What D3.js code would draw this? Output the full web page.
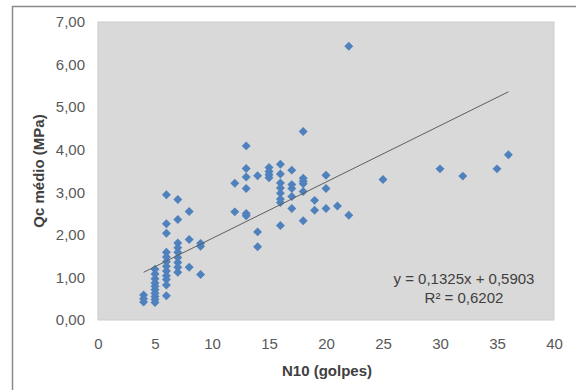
<!DOCTYPE html>
<html>
<head>
<meta charset="utf-8">
<script src="https://cdn.jsdelivr.net/npm/d3@7"></script>
<style>
  html, body { margin: 0; padding: 0; background: #fff; }
  svg { display: block; font-family: Arial, "Liberation Sans", sans-serif; }
</style>
</head>
<body>
<svg id="chart" width="576" height="390"></svg>
<script>
// N10 (golpes)
const n10 = [
  4, 4, 4,
  5, 5, 5, 5, 5, 5, 5, 5, 5, 5,
  6, 6, 6, 6, 6, 6, 6, 6, 6, 6, 6, 6,
  7, 7, 7, 7, 7, 7, 7, 7, 7,
  8, 8, 8,
  9, 9, 9,
  12, 12,
  13, 13, 13, 13, 13, 13,
  14, 14, 14,
  15, 15, 15, 15,
  16, 16, 16, 16, 16, 16, 16, 16,
  17, 17, 17, 17, 17,
  18, 18, 18, 18, 18, 18,
  19, 19,
  20, 20, 20,
  21,
  22, 22,
  25, 30, 32, 35, 36
];
// Qc médio (MPa)
const qc = [
  0.59, 0.50, 0.42,
  1.19, 1.08, 0.97, 0.87, 0.79, 0.71, 0.63, 0.55, 0.48, 0.41,
  2.94, 2.26, 2.04, 1.59, 1.48, 1.37, 1.26, 1.15, 1.04, 0.95, 0.82, 0.57,
  2.83, 2.36, 1.81, 1.70, 1.59, 1.47, 1.35, 1.24, 1.12,
  2.55, 1.89, 1.24,
  1.80, 1.73, 1.07,
  3.21, 2.54,
  4.09, 3.56, 3.36, 3.09, 2.50, 2.45,
  3.39, 2.07, 1.72,
  3.58, 3.49, 3.41, 3.34,
  3.66, 3.43, 3.22, 3.10, 2.98, 2.84, 2.76, 2.22,
  3.52, 3.18, 3.09, 2.90, 2.62,
  4.43, 3.33, 3.26, 3.20, 3.02, 2.33,
  2.81, 2.58,
  3.40, 3.09, 2.62,
  2.68,
  6.43, 2.46,
  3.30, 3.55, 3.38, 3.55, 3.88
];
const xTicks = [0, 5, 10, 15, 20, 25, 30, 35, 40];
const yTicks = [0, 1, 2, 3, 4, 5, 6, 7];
const trendCoef = [0.1325, 0.5903];   // slope, intercept
const trendRange = [4, 36];
const equationLines = ["y = 0,1325x + 0,5903", "R² = 0,6202"];
const xTitle = "N10 (golpes)";
const yTitle = "Qc médio (MPa)";

const svg = d3.select("#chart");
const L = 98, R = 554, T = 22, B = 320;
const x = d3.scaleLinear().domain([0, 40]).range([L, R]);
const y = d3.scaleLinear().domain([0, 7]).range([B, T]);

// outer chart border
svg.append("rect").attr("x", 12.5).attr("y", 6.5).attr("width", 640).attr("height", 420)
  .attr("fill", "#fff").attr("stroke", "#8a8a8a").attr("stroke-width", 1.5);

// plot area
svg.append("rect").attr("x", L).attr("y", T).attr("width", R - L).attr("height", B - T)
  .attr("fill", "#D9D9D9").attr("stroke", "#cccccc").attr("stroke-width", 1);

const fmt = d => d.toFixed(2).replace(".", ",");

const yAxis = svg.append("g").attr("transform", `translate(${L},0)`)
  .call(d3.axisLeft(y).tickValues(yTicks).tickFormat(fmt).tickSize(0).tickPadding(13));
const xAxis = svg.append("g").attr("transform", `translate(0,${B})`)
  .call(d3.axisBottom(x).tickValues(xTicks).tickFormat(d3.format("d")).tickSize(0).tickPadding(18));
[yAxis, xAxis].forEach(g => {
  g.select(".domain").remove();
  g.selectAll("text").attr("font-size", 15).attr("fill", "#595959")
    .attr("font-family", "Arial, 'Liberation Sans', sans-serif");
});

// points
const pts = n10.map((v, i) => [v, qc[i]]);
const sym = d3.symbol().type(d3.symbolSquare).size(40);
svg.append("g").selectAll("path").data(pts).join("path")
  .attr("d", sym)
  .attr("transform", d => `translate(${x(d[0])},${y(d[1])}) rotate(45)`)
  .attr("fill", "#4F81BD");

// trendline
svg.append("line")
  .attr("x1", x(trendRange[0])).attr("y1", y(trendCoef[0] * trendRange[0] + trendCoef[1]))
  .attr("x2", x(trendRange[1])).attr("y2", y(trendCoef[0] * trendRange[1] + trendCoef[1]))
  .attr("stroke", "#5f5f5f").attr("stroke-width", 1);

// equation
svg.append("g").selectAll("text").data(equationLines).join("text")
  .attr("x", 464).attr("y", (d, i) => 278 + i * 19)
  .attr("text-anchor", "middle").attr("dominant-baseline", "central")
  .attr("font-size", 15).attr("fill", "#404040").text(d => d);

// axis titles
svg.append("text").attr("x", 327).attr("y", 370)
  .attr("text-anchor", "middle").attr("dominant-baseline", "central")
  .attr("font-size", 15).attr("font-weight", "bold").attr("fill", "#404040").text(xTitle);
svg.append("text").attr("transform", "translate(38,171) rotate(-90)")
  .attr("text-anchor", "middle").attr("dominant-baseline", "central")
  .attr("font-size", 15).attr("font-weight", "bold").attr("fill", "#404040").text(yTitle);
</script>
</body>
</html>
